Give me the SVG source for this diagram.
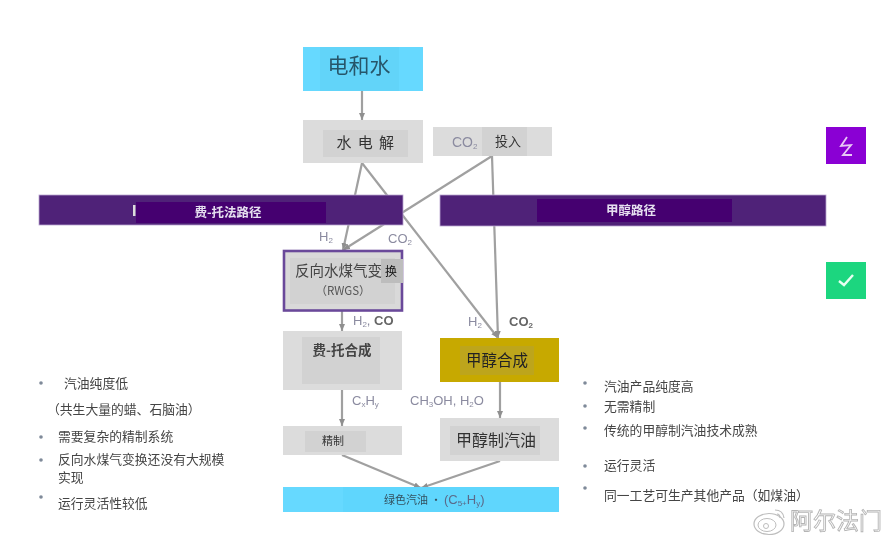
<svg xmlns="http://www.w3.org/2000/svg" width="891" height="542" viewBox="0 0 891 542">
<defs>
<filter id="soft" x="-2%" y="-2%" width="104%" height="104%"><feGaussianBlur stdDeviation="0.7"/></filter>
<marker id="ah" markerUnits="userSpaceOnUse" markerWidth="8" markerHeight="7" refX="7" refY="3.500" orient="auto"><path d="M0 0.5L7 3.500L0 6.500Z" fill="#8f8f8f"/></marker>
</defs>
<style>
text{font-family:"Noto Sans CJK SC","Liberation Sans",sans-serif}
.c{fill:none;stroke:#a0a0a0;stroke-width:2.200}
.a{marker-end:url(#ah)}
.g{fill:#dcdcdc}
.gi{fill:#d2d2d2}
.m{text-anchor:middle;fill:#333}
.lb{font-family:"Liberation Sans",sans-serif;font-size:13px;fill:#8b8ba0}
.li{font-size:12.800px;fill:#444}
.bu{fill:#7f8a99}
.bar{fill:#4f2378;stroke:#b9a6d0;stroke-width:.8}
.bi{fill:#45066f}
.bt{font-size:12.500px;font-weight:700;fill:#e6dff0;text-anchor:middle}
.s{font-size:8px}
</style>
<rect width="891" height="542" fill="#fff"/>
<g filter="url(#soft)">
<g id="connectors">
<path class="c a" d="M362 91V120"/>
<path class="c a" d="M362 163L343 250"/>
<path class="c a" d="M492 156L343 250"/>
<path class="c a" d="M362 163L498 338"/>
<path class="c a" d="M492 156L498 338"/>
<path class="c a" d="M342 311V331"/>
<path class="c a" d="M342 390V426"/>
<path class="c a" d="M500 382V418"/>
<path class="c a" d="M342 455L421 488"/>
<path class="c a" d="M500 461L421 488"/>
</g>
<g id="n-power"><rect x="303" y="47" width="120" height="44" fill="#66d9ff"/><rect x="320" y="47" width="79" height="44" fill="#62d4f9"/><text class="m" x="359" y="73" font-size="21" style="fill:#28566a">电和水</text></g>
<g id="n-electrolysis"><rect class="g" x="303" y="120" width="120" height="43"/><rect class="gi" x="323" y="130" width="85" height="27"/><text class="m" x="366" y="148" font-size="15" letter-spacing="1.500">水 电 解</text></g>
<g id="n-co2"><rect class="g" x="433" y="127" width="119" height="29"/><rect class="gi" x="482" y="127" width="45" height="29"/><text x="452" y="147" style="font-family:'Liberation Sans',sans-serif;font-size:14px;fill:#8b8ba0">CO<tspan class="s" dy="2">2</tspan></text><text class="m" x="508" y="146" font-size="13">投入</text></g>
<g id="n-ft-bar"><rect class="bar" x="39" y="195" width="364" height="30"/><rect class="bi" x="136" y="202" width="190" height="21"/><rect x="133" y="205" width="2.500" height="11" fill="#ddd"/><text class="bt" x="228" y="217">费-托法路径</text></g>
<g id="n-meoh-bar"><rect class="bar" x="440" y="195" width="386" height="31"/><rect class="bi" x="537" y="199" width="195" height="23"/><text class="bt" x="631" y="215">甲醇路径</text></g>
<g id="n-rwgs"><rect x="284" y="251" width="118" height="59.500" fill="#d9d9d9" stroke="#6b4a9a" stroke-width="2.600"/><rect class="gi" x="290" y="258" width="105" height="46"/><rect x="381" y="259" width="22" height="24" fill="#bdbdbd"/><text x="295" y="276" font-size="14.500" fill="#444">反向水煤气变</text><text x="385" y="276" font-size="12" fill="#111">换</text><text class="m" x="343" y="295" font-size="11.500" style="fill:#555">（RWGS）</text></g>
<g id="n-ft"><rect class="g" x="283" y="331" width="119" height="59"/><rect class="gi" x="302" y="337" width="78" height="47"/><text class="m" x="342" y="355" font-size="13.500" style="font-weight:700;fill:#444">费-托合成</text></g>
<g id="n-meoh"><rect x="440" y="338" width="119" height="44" fill="#c7a900"/><rect x="460" y="346" width="74" height="29" fill="#bda51f"/><text class="m" x="497" y="366" font-size="15.500" style="fill:#222">甲醇合成</text></g>
<g id="n-refine"><rect class="g" x="283" y="426" width="119" height="29"/><rect class="gi" x="305" y="431" width="61" height="21"/><text class="m" x="333" y="445" font-size="11">精制</text></g>
<g id="n-mtg"><rect class="g" x="440" y="418" width="119" height="43"/><rect class="gi" x="450" y="426" width="90" height="29"/><text class="m" x="496" y="446" font-size="16">甲醇制汽油</text></g>
<g id="n-fuel"><rect x="283" y="487" width="276" height="25" fill="#66d9ff"/><rect x="343" y="487" width="216" height="25" fill="#5fd6fd"/><text x="384" y="504" font-size="11" fill="#33515f">绿色汽油 · <tspan style="font-family:'Liberation Sans',sans-serif;font-size:13px;fill:#5a6a8a">(C<tspan class="s" dy="2">5+</tspan><tspan dy="-2">H</tspan><tspan class="s" dy="2">y</tspan><tspan dy="-2">)</tspan></tspan></text></g>
<g id="labels">
<text class="lb" x="319" y="241">H<tspan class="s" dy="2">2</tspan></text>
<text class="lb" x="388" y="243">CO<tspan class="s" dy="2">2</tspan></text>
<text class="lb" x="353" y="325">H<tspan class="s" dy="2">2</tspan><tspan dy="-2">, </tspan><tspan font-weight="700" fill="#666">CO</tspan></text>
<text class="lb" x="468" y="326">H<tspan class="s" dy="2">2</tspan></text>
<text class="lb" x="509" y="326" font-weight="700" style="fill:#666">CO<tspan class="s" dy="2">2</tspan></text>
<text class="lb" x="352" y="405">C<tspan class="s" dy="2">x</tspan><tspan dy="-2">H</tspan><tspan class="s" dy="2">y</tspan></text>
<text class="lb" x="410" y="405">CH<tspan class="s" dy="2">3</tspan><tspan dy="-2">OH, H</tspan><tspan class="s" dy="2">2</tspan><tspan dy="-2">O</tspan></text>
</g>
<g id="list-left">
<circle class="bu" cx="41" cy="383" r="1.800"/><text class="li" x="64" y="388">汽油纯度低</text>
<text class="li" x="47" y="414">（共生大量的蜡、石脑油）</text>
<circle class="bu" cx="41" cy="437" r="1.800"/><text class="li" x="58" y="441">需要复杂的精制系统</text>
<circle class="bu" cx="41" cy="460" r="1.800"/><text class="li" x="58" y="464">反向水煤气变换还没有大规模</text><text class="li" x="58" y="482">实现</text>
<circle class="bu" cx="41" cy="497" r="1.800"/><text class="li" x="58" y="508">运行灵活性较低</text>
</g>
<g id="list-right">
<circle class="bu" cx="585" cy="383" r="1.800"/><text class="li" x="604" y="391">汽油产品纯度高</text>
<circle class="bu" cx="585" cy="406" r="1.800"/><text class="li" x="604" y="411">无需精制</text>
<circle class="bu" cx="585" cy="428" r="1.800"/><text class="li" x="604" y="435">传统的甲醇制汽油技术成熟</text>
<circle class="bu" cx="585" cy="466" r="1.800"/><text class="li" x="604" y="470">运行灵活</text>
<circle class="bu" cx="585" cy="488" r="1.800"/><text class="li" x="604" y="500">同一工艺可生产其他产品（如煤油）</text>
</g>
<g id="n-icon-power"><rect x="826" y="127" width="40" height="37" fill="#8a00d4"/><path d="M847 137L841 146L851 145L843 155H852" fill="none" stroke="#e8c8f5" stroke-width="1.800"/></g>
<g id="n-icon-check"><rect x="826" y="262" width="40" height="37" fill="#1fd67f"/><path d="M839 281L844 285L853 275" fill="none" stroke="#e8fff2" stroke-width="2.400"/></g>
<g id="watermark" fill="none" stroke="#bdbdbd">
<ellipse cx="769" cy="524" rx="15" ry="10.500" stroke-width="1.200"/><ellipse cx="767" cy="525" rx="9" ry="6.500"/><circle cx="766" cy="526" r="2.500"/><path d="M775 510Q783 510 784 518M777 514Q780 514 780 518" stroke-width="1.200"/>
<text x="790" y="529" font-size="23" style="fill:#fff;stroke:#b5b5b5;stroke-width:.9">阿尔法门</text>
</g>
</g>
</svg>
